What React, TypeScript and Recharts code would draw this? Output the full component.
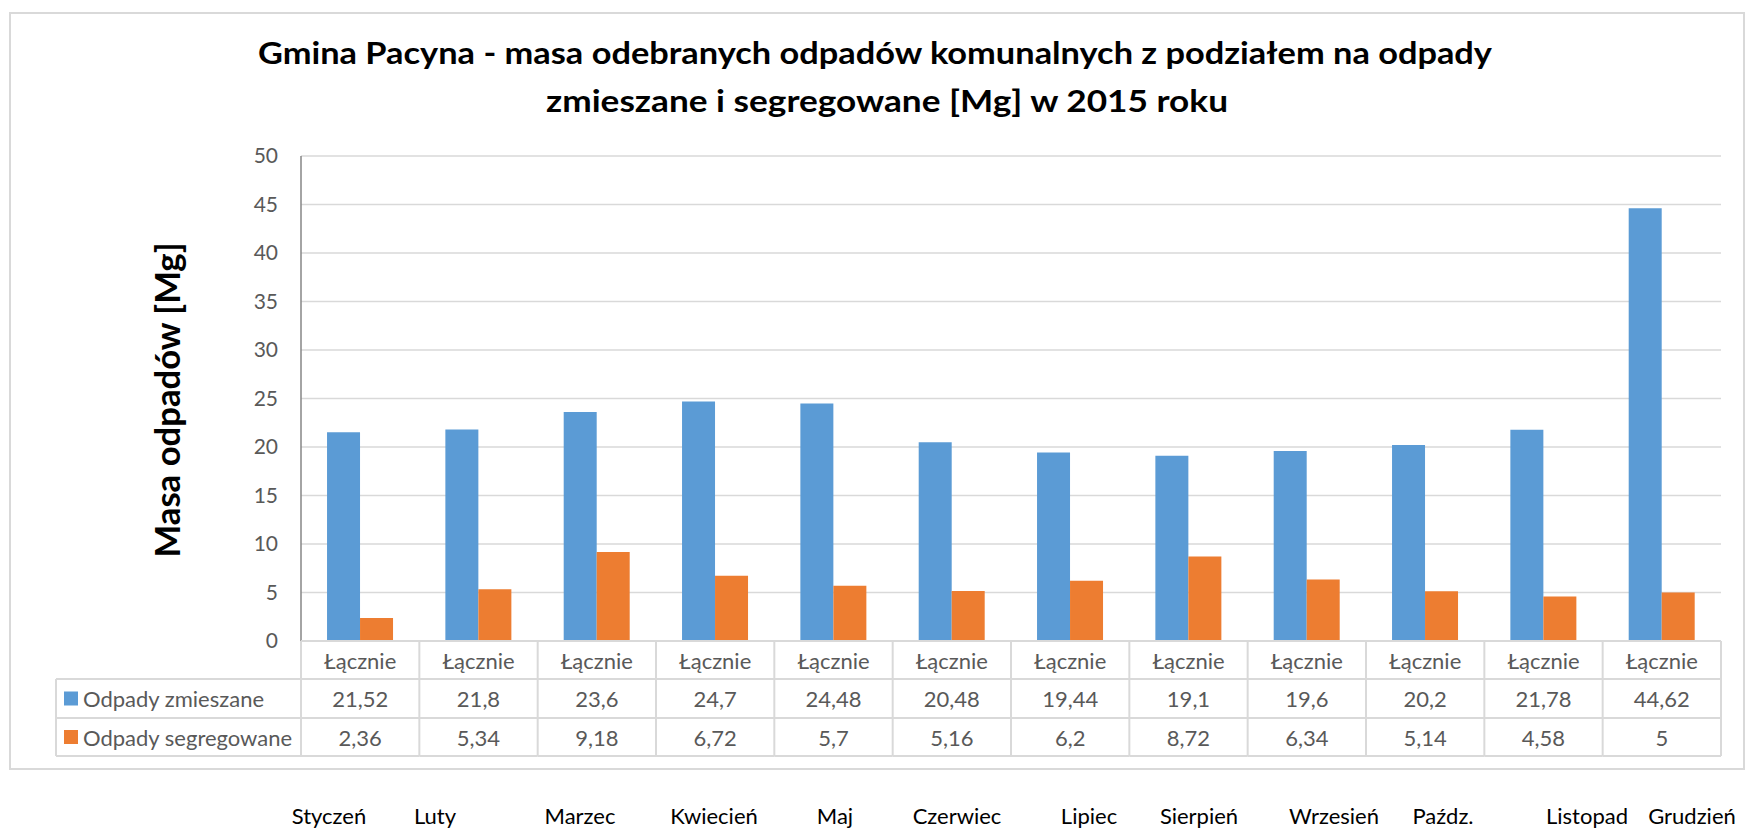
import { BarChart, Bar, XAxis, YAxis, CartesianGrid } from 'recharts'

const MONTHS = ['Styczeń', 'Luty', 'Marzec', 'Kwiecień', 'Maj', 'Czerwiec', 'Lipiec', 'Sierpień', 'Wrzesień', 'Paźdz.', 'Listopad', 'Grudzień']
const GROUP_LABEL = 'Łącznie'
const MIXED = [21.52, 21.8, 23.6, 24.7, 24.48, 20.48, 19.44, 19.1, 19.6, 20.2, 21.78, 44.62]
const SEGREGATED = [2.36, 5.34, 9.18, 6.72, 5.7, 5.16, 6.2, 8.72, 6.34, 5.14, 4.58, 5]
const Y_TICKS = [0, 5, 10, 15, 20, 25, 30, 35, 40, 45, 50]

const SERIES = [
  { key: 'mixed', name: 'Odpady zmieszane', color: '#5B9BD5', values: MIXED },
  { key: 'segregated', name: 'Odpady segregowane', color: '#ED7D31', values: SEGREGATED },
]

const TITLE_LINES = ['Gmina Pacyna - masa odebranych odpadów komunalnych z podziałem na odpady', 'zmieszane i segregowane [Mg] w 2015 roku']
const Y_LABEL = 'Masa odpadów [Mg]'

// the month captions under the chart are not lined up with the columns
const MONTH_LABEL_X = [329, 435, 580, 714, 835, 957, 1089, 1199, 1334, 1443, 1587, 1692]

const FONT = 'Lato, "Open Sans", sans-serif'
const GRID = '#D9D9D9'
const TEXT = '#595959'
const ROW_H = [38, 39, 38]
const TABLE_LEFT = 56

const data = MONTHS.map((m, i) => ({ month: m, mixed: MIXED[i], segregated: SEGREGATED[i] }))

const fmt = (v: number) => String(v).replace('.', ',')

function TableTick(props: any) {
  const { x, y, payload, index } = props
  const half = payload?.offset ? payload.offset : (props.width ?? 1420) / MONTHS.length / 2
  const r1 = y + ROW_H[0]
  const r2 = r1 + ROW_H[1]
  const r3 = r2 + ROW_H[2]
  const rowMid = [y + ROW_H[0] / 2, r1 + ROW_H[1] / 2, r2 + ROW_H[2] / 2]
  const line = { stroke: GRID, strokeWidth: 2 }
  return (
    <g>
      <line x1={x + half} x2={x + half} y1={y} y2={r3} {...line} />
      <line x1={x - half} x2={x + half} y1={r1} y2={r1} {...line} />
      <line x1={x - half} x2={x + half} y1={r2} y2={r2} {...line} />
      <line x1={x - half} x2={x + half} y1={r3} y2={r3} {...line} />
      <text x={x} y={rowMid[0]} textAnchor="middle" dominantBaseline="central" fontSize={22} fill={TEXT} fontFamily={FONT}>
        {GROUP_LABEL}
      </text>
      {SERIES.map((s, si) => (
        <text key={s.key} x={x} y={rowMid[si + 1]} textAnchor="middle" dominantBaseline="central" fontSize={22} fill={TEXT} fontFamily={FONT}>
          {fmt(s.values[index])}
        </text>
      ))}
      {index === 0 && (
        <g>
          <line x1={x - half} x2={x - half} y1={y} y2={r3} {...line} />
          <line x1={TABLE_LEFT} x2={TABLE_LEFT} y1={r1} y2={r3} {...line} />
          <line x1={TABLE_LEFT} x2={x - half} y1={r1} y2={r1} {...line} />
          <line x1={TABLE_LEFT} x2={x - half} y1={r2} y2={r2} {...line} />
          <line x1={TABLE_LEFT} x2={x - half} y1={r3} y2={r3} {...line} />
          {SERIES.map((s, si) => (
            <g key={s.key}>
              <rect x={TABLE_LEFT + 8} y={rowMid[si + 1] - 7} width={14} height={14} fill={s.color} />
              <text x={TABLE_LEFT + 27} y={rowMid[si + 1]} dominantBaseline="central" fontSize={22} fill={TEXT} fontFamily={FONT}>
                {s.name}
              </text>
            </g>
          ))}
        </g>
      )}
    </g>
  )
}

export default function App() {
  return (
    <div style={{ position: 'absolute', left: 0, top: 0, width: 1746, height: 828, background: '#fff' }}>
      <BarChart
        width={1746}
        height={828}
        data={data}
        margin={{ top: 156, right: 25, bottom: 0, left: 0 }}
        barGap={0}
        barCategoryGap="22%"
      >
        <CartesianGrid vertical={false} stroke={GRID} strokeWidth={1.5} />
        <YAxis
          type="number"
          domain={[0, 50]}
          ticks={Y_TICKS}
          width={301}
          axisLine={{ stroke: '#868686', strokeWidth: 1.5 }}
          tickLine={false}
          tickSize={0}
          tickMargin={23}
          tick={{ fontSize: 21, fill: TEXT, fontFamily: FONT }}
        />
        <XAxis
          dataKey="month"
          height={187}
          axisLine={{ stroke: GRID, strokeWidth: 2 }}
          tickLine={false}
          tickSize={0}
          tickMargin={0}
          interval={0}
          tick={<TableTick />}
        />
        {SERIES.map((s) => (
          <Bar key={s.key} dataKey={s.key} name={s.name} fill={s.color} isAnimationActive={false} />
        ))}
      </BarChart>
      <svg width={1746} height={828} style={{ position: 'absolute', left: 0, top: 0, pointerEvents: 'none' }}>
        <rect x={10} y={13} width={1734} height={756} fill="none" stroke={GRID} strokeWidth={2} />
        <text x={875} y={64} textAnchor="middle" fontSize={31} fontWeight="bold" fontFamily={FONT} fill="#000" textLength={1234} lengthAdjust="spacingAndGlyphs">
          {TITLE_LINES[0]}
        </text>
        <text x={887} y={112} textAnchor="middle" fontSize={31} fontWeight="bold" fontFamily={FONT} fill="#000" textLength={682} lengthAdjust="spacingAndGlyphs">
          {TITLE_LINES[1]}
        </text>
        <text
          x={180}
          y={400}
          transform="rotate(-90 180 400)"
          textAnchor="middle"
          fontSize={34}
          fontWeight="bold"
          fontFamily={FONT}
          fill="#000"
          textLength={315}
          lengthAdjust="spacingAndGlyphs"
        >
          {Y_LABEL}
        </text>
        {MONTHS.map((m, i) => (
          <text key={m} x={MONTH_LABEL_X[i]} y={824} textAnchor="middle" fontSize={22} fontFamily={FONT} fill="#000">
            {m}
          </text>
        ))}
      </svg>
    </div>
  )
}
